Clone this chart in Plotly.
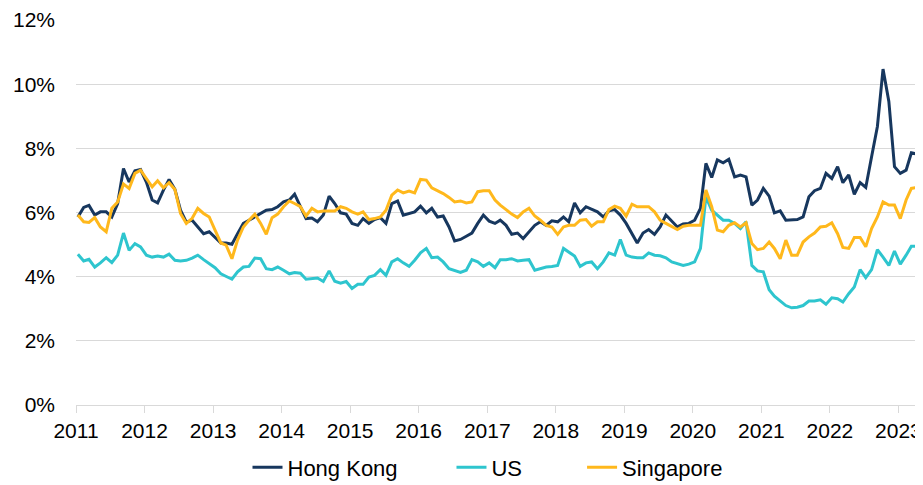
import pandas as pd
import plotly.graph_objects as go

# Monthly series, Jan 2011 - May 2023 (percent)
hong_kong = [
    5.86, 6.16, 6.22, 5.92, 6.02, 6.02, 5.86, 6.28, 7.37, 6.95, 7.30, 7.34,
    6.95, 6.39, 6.30, 6.70, 7.03, 6.72, 6.07, 5.70, 5.76, 5.57, 5.34, 5.40,
    5.24, 5.05, 5.05, 5.01, 5.34, 5.66, 5.76, 5.86, 5.95, 6.07, 6.09, 6.18,
    6.33, 6.39, 6.57, 6.18, 5.81, 5.83, 5.71, 5.92, 6.51, 6.28, 5.99, 5.95,
    5.66, 5.60, 5.81, 5.66, 5.78, 5.84, 5.66, 6.28, 6.36, 5.92, 5.97, 6.02,
    6.20, 5.99, 6.13, 5.86, 5.89, 5.55, 5.11, 5.16, 5.26, 5.36, 5.66, 5.92,
    5.73, 5.66, 5.76, 5.60, 5.32, 5.36, 5.19, 5.40, 5.60, 5.71, 5.60, 5.74,
    5.71, 5.86, 5.71, 6.30, 5.99, 6.18, 6.09, 6.02, 5.86, 6.05, 6.09, 5.92,
    5.66, 5.34, 5.05, 5.36, 5.47, 5.32, 5.55, 5.92, 5.74, 5.55, 5.64, 5.66,
    5.76, 6.13, 7.53, 7.09, 7.64, 7.55, 7.66, 7.11, 7.17, 7.11, 6.23, 6.39,
    6.75, 6.51, 5.99, 6.05, 5.76, 5.78, 5.78, 5.86, 6.49, 6.68, 6.75, 7.22,
    7.06, 7.43, 6.93, 7.17, 6.57, 6.93, 6.78, 7.74, 8.68, 10.47, 9.46, 7.43,
    7.22, 7.32, 7.86, 7.82, 7.81,
]
us = [
    4.70, 4.49, 4.54, 4.30, 4.43, 4.59, 4.44, 4.67, 5.36, 4.82, 5.03, 4.93,
    4.67, 4.61, 4.64, 4.61, 4.70, 4.51, 4.49, 4.51, 4.58, 4.67, 4.53, 4.41,
    4.28, 4.09, 4.02, 3.92, 4.15, 4.30, 4.32, 4.58, 4.56, 4.25, 4.22, 4.30,
    4.20, 4.09, 4.13, 4.11, 3.92, 3.94, 3.96, 3.85, 4.18, 3.86, 3.80, 3.85,
    3.63, 3.76, 3.76, 3.99, 4.04, 4.22, 4.04, 4.46, 4.56, 4.43, 4.32, 4.51,
    4.74, 4.88, 4.59, 4.61, 4.46, 4.25, 4.18, 4.13, 4.20, 4.53, 4.46, 4.32,
    4.43, 4.28, 4.53, 4.53, 4.56, 4.49, 4.51, 4.53, 4.20, 4.25, 4.30, 4.32,
    4.35, 4.88, 4.77, 4.64, 4.32, 4.43, 4.46, 4.25, 4.46, 4.74, 4.67, 5.16,
    4.67, 4.61, 4.59, 4.59, 4.74, 4.67, 4.65, 4.59, 4.46, 4.41, 4.35, 4.39,
    4.46, 4.88, 6.49, 6.07, 5.92, 5.76, 5.76, 5.66, 5.50, 5.71, 4.35, 4.18,
    4.15, 3.59, 3.39, 3.24, 3.10, 3.03, 3.05, 3.10, 3.24, 3.24, 3.28, 3.14,
    3.34, 3.31, 3.21, 3.47, 3.68, 4.22, 3.97, 4.22, 4.84, 4.61, 4.35, 4.80,
    4.39, 4.67, 4.95, 4.95, 5.01,
]
singapore = [
    5.92, 5.71, 5.69, 5.84, 5.55, 5.40, 6.13, 6.33, 6.89, 6.75, 7.22, 7.32,
    7.06, 6.80, 6.99, 6.77, 6.93, 6.72, 5.97, 5.66, 5.82, 6.13, 5.97, 5.86,
    5.45, 5.05, 4.98, 4.56, 5.14, 5.55, 5.76, 5.95, 5.66, 5.32, 5.84, 5.95,
    6.18, 6.36, 6.28, 6.18, 5.89, 6.13, 6.02, 6.05, 6.05, 6.05, 6.18, 6.13,
    6.02, 5.95, 6.02, 5.78, 5.81, 5.86, 6.07, 6.54, 6.70, 6.61, 6.67, 6.61,
    7.03, 7.01, 6.77, 6.68, 6.59, 6.47, 6.33, 6.36, 6.30, 6.33, 6.65, 6.68,
    6.68, 6.39, 6.23, 6.09, 5.95, 5.84, 6.02, 6.13, 5.89, 5.76, 5.60, 5.55,
    5.32, 5.55, 5.60, 5.60, 5.76, 5.78, 5.57, 5.71, 5.71, 6.09, 6.20, 6.13,
    5.89, 6.26, 6.18, 6.18, 6.18, 6.02, 5.76, 5.66, 5.57, 5.47, 5.57, 5.60,
    5.60, 5.60, 6.70, 6.18, 5.45, 5.40, 5.60, 5.68, 5.55, 5.68, 5.03, 4.84,
    4.88, 5.08, 4.88, 4.56, 5.14, 4.67, 4.67, 5.08, 5.24, 5.36, 5.55, 5.57,
    5.68, 5.34, 4.91, 4.88, 5.22, 5.22, 4.93, 5.50, 5.86, 6.33, 6.23, 6.23,
    5.81, 6.39, 6.75, 6.78, 6.82,
]
series_names = ["Hong Kong", "US", "Singapore"]
y_ticks = [0, 2, 4, 6, 8, 10, 12]
y_tick_labels = [f"{v}%" for v in y_ticks]

dates = pd.date_range("2011-01-01", periods=len(hong_kong), freq="MS") + pd.Timedelta(days=10)

colors = ["#17375E", "#2EC5CE", "#FFB81C"]
font = "Liberation Sans, Arial, sans-serif"
# trailing non-breaking spaces widen the gaps between legend entries
legend_pad = ["\u00a0" * 8, "\u00a0" * 9, ""]

fig = go.Figure()
for name, vals, col, pad in zip(series_names, [hong_kong, us, singapore], colors, legend_pad):
    fig.add_trace(go.Scatter(
        x=dates, y=vals, name=name + pad, mode="lines",
        line=dict(color=col, width=3),
    ))

# page body has an 8px margin, so the figure is 8px smaller than the window
W, H = 915, 477
L, T = 68, 12
fig.update_layout(
    width=W, height=H,
    margin=dict(l=L, r=0, t=T, b=H - T - 385, autoexpand=False),
    paper_bgcolor="white", plot_bgcolor="white",
    font=dict(family=font, size=21, color="#000000"),
    showlegend=True,
    legend=dict(orientation="h", yanchor="middle", y=-0.162,
                xanchor="center", x=(487.5 - 8 - L) / 847,
                font=dict(family=font, size=22, color="#000000"),
                bgcolor="rgba(0,0,0,0)", itemwidth=30),
    xaxis=dict(
        type="date", automargin=False,
        range=["2011-01-01", "2023-05-12"],
        tick0="2011-01-01", dtick="M12", tickformat="%Y",
        showgrid=False, showline=True, linecolor="#D9D9D9", linewidth=1,
        ticks="outside", ticklen=7, tickcolor="#D9D9D9", tickwidth=1,
        tickfont=dict(family=font, size=21, color="#000000"),
        zeroline=False,
    ),
    yaxis=dict(
        automargin=False,
        range=[0, 12], tickmode="array", tickvals=y_ticks, ticktext=y_tick_labels,
        showgrid=True, gridcolor="#D9D9D9", gridwidth=1,
        zeroline=False, showline=False, ticks="",
        ticklabelstandoff=20,
        tickfont=dict(family=font, size=21, color="#000000"),
    ),
)

fig.write_html("out.html")
